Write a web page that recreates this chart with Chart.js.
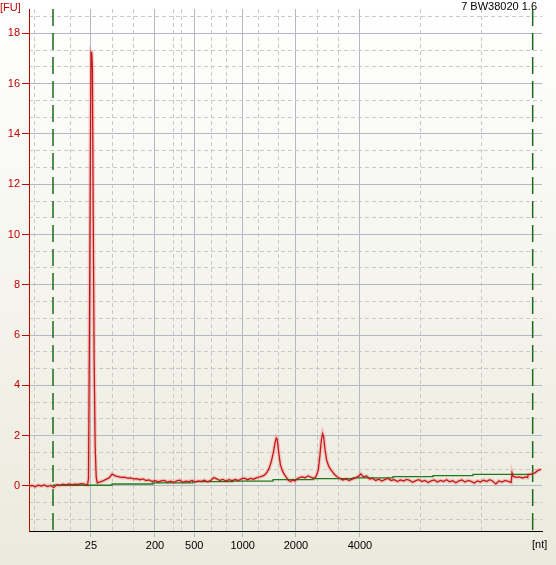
<!DOCTYPE html>
<html>
<head>
<meta charset="utf-8">
<script src="https://cdn.jsdelivr.net/npm/chart.js@4.4.0/dist/chart.umd.min.js"></script>
<style>
  html, body { margin: 0; padding: 0; }
  body { width: 556px; height: 565px; overflow: hidden; background: linear-gradient(#ffffff, #ebeadd); }
  #wrap { width: 556px; height: 565px; position: relative; }
</style>
</head>
<body>
<div id="wrap"><canvas id="elecChart"></canvas></div>
<script>
// migration time [s] and fluorescence [FU] of the sample
const traceTime = [
    19.0, 19.3, 19.6, 19.9, 20.2, 20.5, 20.8, 21.1, 21.4, 21.7, 22.0, 22.3, 22.6, 22.9, 23.2, 23.5, 23.8, 24.1, 24.4, 24.7,
    24.8, 24.9, 25.0, 25.05, 25.12, 25.18, 25.25, 25.35, 25.45, 25.55, 25.65,
    25.9, 26.2, 26.5, 26.8, 27.1, 27.4, 27.7, 28.0, 28.3, 28.6, 28.9, 29.2, 29.5, 29.8, 30.1, 30.4, 30.7, 31.0, 31.3, 31.6,
    31.9, 32.2, 32.5, 32.8, 33.1, 33.4, 33.7, 34.0, 34.3, 34.6, 34.9, 35.2, 35.5, 35.8, 36.1, 36.4, 36.7, 37.0, 37.3, 37.6,
    37.9, 38.2, 38.5, 38.8, 39.1, 39.4, 39.7, 40.0, 40.3, 40.6, 40.9, 41.2, 41.5, 41.8, 42.0, 42.2, 42.4, 42.6, 42.8, 43.0,
    43.1, 43.2, 43.35, 43.5, 43.7, 43.9, 44.1, 44.3, 44.5, 44.7, 44.9, 45.1, 45.3, 45.6, 45.9, 46.2, 46.5, 46.8, 47.0, 47.2,
    47.35, 47.5, 47.62, 47.72, 47.85, 48.0, 48.2, 48.4, 48.6, 48.8, 49.0, 49.3, 49.6, 49.9, 50.2, 50.5, 50.8, 51.1, 51.35, 51.6,
    51.9, 52.2, 52.5, 52.8, 53.1, 53.4, 53.7, 54.0, 54.3, 54.6, 54.9, 55.2, 55.5, 55.8, 56.1, 56.4, 56.7, 57.0, 57.3, 57.6,
    57.9, 58.2, 58.5, 58.8, 59.1, 59.4, 59.7, 60.0, 60.3, 60.6, 60.9, 61.2, 61.5, 61.8, 62.1, 62.4, 62.7, 63.0, 63.3, 63.6,
    63.9, 64.2, 64.5, 64.8, 65.1, 65.4, 65.7, 66.0, 66.08, 66.2, 66.5, 66.8, 67.1, 67.4, 67.6, 67.65, 68.0, 68.3, 68.6, 68.9
];
const traceFU = [
    0.0, 0.02, -0.03, 0.03, 0.0, 0.04, -0.02, 0.02, -0.06, 0.05, 0.02, 0.07, 0.04, 0.08, 0.05, 0.07, 0.06, 0.09, 0.07, 0.03,
    0.3, 6.8, 14.6, 17.25, 17.2, 16.6, 11.3, 5.0, 1.55, 0.35, 0.12,
    0.15, 0.2, 0.26, 0.32, 0.47, 0.4, 0.37, 0.34, 0.35, 0.31, 0.32, 0.28, 0.29, 0.25, 0.28, 0.22, 0.24, 0.18, 0.21, 0.16,
    0.2, 0.22, 0.15, 0.19, 0.14, 0.2, 0.23, 0.15, 0.19, 0.17, 0.22, 0.16, 0.2, 0.18, 0.23, 0.17, 0.21, 0.34, 0.28, 0.22,
    0.26, 0.2, 0.25, 0.21, 0.26, 0.22, 0.28, 0.31, 0.25, 0.3, 0.27, 0.33, 0.36, 0.4, 0.45, 0.55, 0.7, 0.95, 1.3, 1.75,
    1.91, 1.85, 1.3, 0.85, 0.6, 0.45, 0.33, 0.22, 0.18, 0.24, 0.2, 0.28, 0.32, 0.36, 0.33, 0.4, 0.34, 0.3, 0.4, 0.65,
    1.2, 1.85, 2.08, 1.95, 1.45, 1.05, 0.8, 0.65, 0.55, 0.45, 0.38, 0.3, 0.24, 0.28, 0.22, 0.27, 0.32, 0.38, 0.48, 0.36,
    0.4, 0.28, 0.3, 0.22, 0.27, 0.2, 0.26, 0.3, 0.22, 0.25, 0.18, 0.24, 0.2, 0.26, 0.22, 0.15, 0.21, 0.25, 0.18, 0.22,
    0.14, 0.2, 0.24, 0.16, 0.22, 0.18, 0.25, 0.17, 0.21, 0.13, 0.2, 0.24, 0.16, 0.22, 0.18, 0.12, 0.2, 0.16, 0.23, 0.18,
    0.25, 0.19, 0.08, 0.2, 0.16, 0.22, 0.18, 0.14, 0.52, 0.38, 0.34, 0.36, 0.32, 0.36, 0.34, 0.45, 0.47, 0.52, 0.62, 0.66
];

// stepped baseline
const baseTime = [21.34, 27.09, 31.09, 34.98, 38.88, 42.78, 46.68, 50.58, 54.48, 58.38, 62.27, 66.08, 68.12];
const baseFU = [0.0, 0.03, 0.08, 0.12, 0.17, 0.19, 0.25, 0.29, 0.32, 0.37, 0.41, 0.46, 0.46];

// lower / upper marker
const markerTime = [21.34, 68.09];

// ladder ticks
const ladderTime = [25.04, 31.28, 35.11, 39.83, 45.02, 51.26];
const ladderLabels = ['25', '200', '500', '1000', '2000', '4000'];
const minorTime = [19.58, 23.09, 27.16, 29.17, 33.13, 33.88, 36.74, 38.27, 41.32, 43.27, 47.10, 49.15, 57.18, 63.12];

const yMajor = [0, 2, 4, 6, 8, 10, 12, 14, 16, 18];
const yMinor = [-1.33, -0.67, 0.67, 1.33, 2.67, 3.33, 4.67, 5.33, 6.67, 7.33, 8.67, 9.33,
    10.67, 11.33, 12.67, 13.33, 14.67, 15.33, 16.67, 17.33, 18.67];

const yMin = -1.79;
const yMax = 18.97;
const tMin = 19;
const tMax = 69;

const tracePoints = traceTime.map((t, i) => ({ x: t, y: traceFU[i] }));
const basePoints = baseTime.map((t, i) => ({ x: t, y: baseFU[i] }));

const labelFont = { family: 'Liberation Sans', size: 11 };

const textPlugin = {
    id: 'texts',
    afterDraw(chart) {
        const ctx = chart.ctx;
        ctx.save();
        ctx.font = '11px "Liberation Sans"';
        ctx.textBaseline = 'top';
        ctx.fillStyle = '#c00000';
        ctx.textAlign = 'left';
        ctx.fillText('[FU]', 0, 2);
        ctx.fillStyle = '#000000';
        ctx.textAlign = 'right';
        ctx.fillText('7 BW38020 1.6', 537, 1);
        ctx.textAlign = 'left';
        ctx.fillText('[nt]', 532, 539);
        ctx.restore();
    }
};

const datasets = [{
    label: 'Sample',
    data: tracePoints,
    borderColor: '#c41818',
    borderWidth: 1.3,
    pointRadius: 0,
    tension: 0
}, {
    label: 'Baseline',
    data: basePoints,
    borderColor: '#1f7a1f',
    borderWidth: 1.3,
    pointRadius: 0,
    stepped: 'after'
}, {
    label: 'Halo',
    data: tracePoints,
    borderColor: 'rgba(240, 130, 130, 0.35)',
    borderWidth: 4,
    pointRadius: 0,
    tension: 0
}];

markerTime.forEach(t => {
    datasets.push({
        label: 'Marker',
        data: [{ x: t, y: yMax }, { x: t, y: yMin }],
        borderColor: '#1a6b1a',
        borderWidth: 1.5,
        borderDash: [17, 7],
        pointRadius: 0
    });
});

const ctxElec = document.getElementById('elecChart').getContext('2d');
const elecChart = new Chart(ctxElec, {
    type: 'line',
    data: { datasets: datasets },
    plugins: [textPlugin],
    options: {
        responsive: true,
        maintainAspectRatio: false,
        animation: false,
        layout: { padding: { top: 9, right: 14, left: 0, bottom: 0 } },
        plugins: {
            legend: { display: false },
            tooltip: { enabled: false }
        },
        scales: {
            x: {
                type: 'linear',
                min: tMin,
                max: tMax,
                afterBuildTicks: s => { s.ticks = ladderTime.map(v => ({ value: v })); },
                afterFit: s => { s.height = 34; },
                ticks: {
                    autoSkip: false,
                    maxRotation: 0,
                    padding: 2,
                    color: '#000000',
                    font: labelFont,
                    callback: (v, i) => ladderLabels[i]
                },
                grid: { color: '#b3b8c4', tickColor: '#b3b8c4', tickLength: 6 },
                border: { color: '#000000', width: 1 }
            },
            xMinor: {
                type: 'linear',
                position: 'top',
                min: tMin,
                max: tMax,
                afterBuildTicks: s => { s.ticks = minorTime.map(v => ({ value: v })); },
                afterFit: s => { s.height = 0; },
                ticks: { display: false },
                grid: { color: '#c9c9c9', drawTicks: false },
                border: { display: false, dash: [4, 3] }
            },
            y: {
                min: yMin,
                max: yMax,
                afterBuildTicks: s => { s.ticks = yMajor.map(v => ({ value: v })); },
                afterFit: s => { s.width = 29; },
                ticks: {
                    color: '#c00000',
                    padding: 2,
                    font: labelFont,
                    callback: v => v
                },
                grid: { color: '#b3b8c4', tickColor: '#c00000', tickLength: 7 },
                border: { color: '#c00000', width: 1 }
            },
            yMinor: {
                position: 'right',
                min: yMin,
                max: yMax,
                afterBuildTicks: s => { s.ticks = yMinor.map(v => ({ value: v })); },
                afterFit: s => { s.width = 0; },
                ticks: { display: false },
                grid: { color: '#c9c9c9', drawTicks: false },
                border: { display: false, dash: [4, 3] }
            }
        }
    }
});
</script>
</body>
</html>
